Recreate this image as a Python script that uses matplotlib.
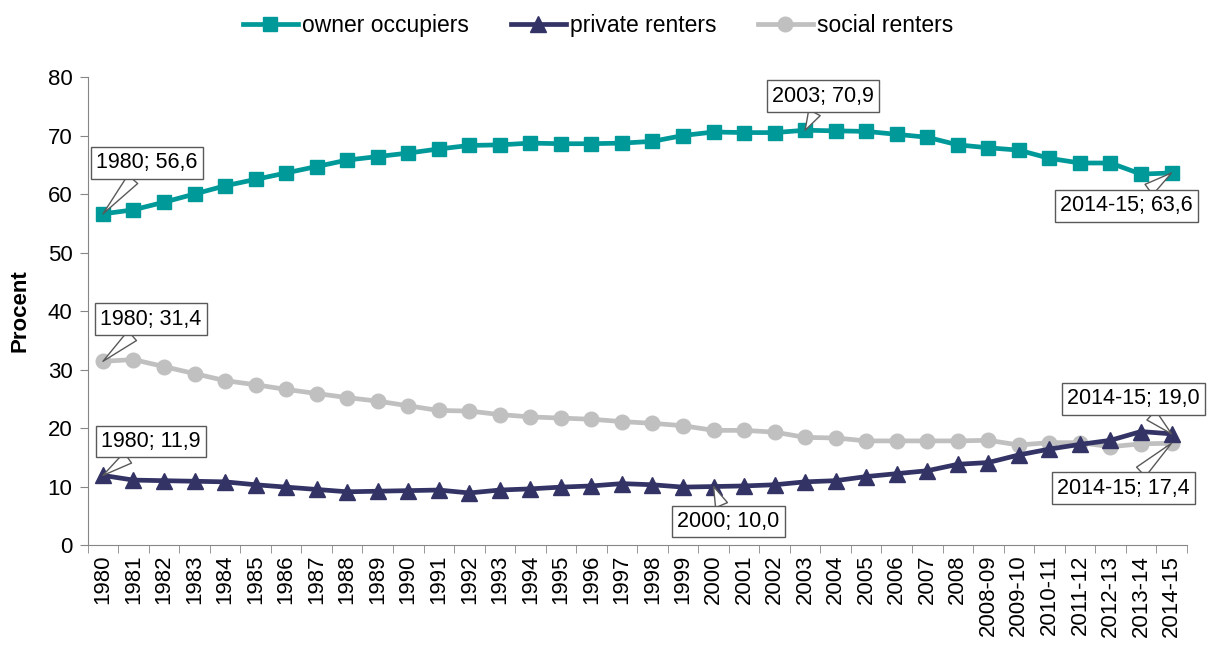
import matplotlib
matplotlib.use('Agg')
import matplotlib.pyplot as plt
import numpy as np

plt.rcParams['font.family'] = ['Liberation Sans', 'DejaVu Sans']

years = [str(y) for y in range(1980, 2009)] + [
    '2008-09', '2009-10', '2010-11', '2011-12', '2012-13', '2013-14', '2014-15']

owner = [56.6, 57.3, 58.6, 60.0, 61.4, 62.5, 63.6, 64.7, 65.8, 66.4, 67.0, 67.7, 68.3, 68.4,
         68.7, 68.6, 68.6, 68.7, 69.0, 70.0, 70.6, 70.5, 70.5, 70.9, 70.8, 70.7, 70.2, 69.7,
         68.4, 67.9, 67.5, 66.1, 65.3, 65.3, 63.4, 63.6]
private = [11.9, 11.1, 11.0, 10.9, 10.8, 10.3, 9.9, 9.5, 9.1, 9.2, 9.3, 9.4, 8.9, 9.4,
           9.6, 9.9, 10.1, 10.5, 10.3, 9.9, 10.0, 10.1, 10.3, 10.8, 11.0, 11.7, 12.2, 12.7,
           13.8, 14.1, 15.4, 16.4, 17.2, 17.9, 19.4, 19.0]
social = [31.4, 31.7, 30.5, 29.3, 28.1, 27.4, 26.6, 25.9, 25.2, 24.6, 23.8, 23.0, 22.9, 22.3,
          21.9, 21.7, 21.5, 21.1, 20.8, 20.4, 19.6, 19.6, 19.3, 18.4, 18.3, 17.8, 17.8, 17.8,
          17.8, 17.9, 17.1, 17.5, 17.5, 16.8, 17.3, 17.4]

c_owner = '#009999'
c_private = '#333366'
c_social = '#C0C0C0'

fig = plt.figure(figsize=(12.11, 6.46), dpi=100)
ax = fig.add_axes([0.0724, 0.1563, 0.9076, 0.7245])

x = np.arange(len(years))
ax.plot(x, owner, color=c_owner, lw=3.4, marker='s', ms=10.5, label='owner occupiers', zorder=4)
ax.plot(x, private, color=c_private, lw=3.4, marker='^', ms=11.5, label='private renters', zorder=3)
ax.plot(x, social, color=c_social, lw=3.4, marker='o', ms=10.5, label='social renters', zorder=2)

ax.set_xlim(-0.5, len(years) - 0.5)
ax.set_ylim(0, 80)
ax.set_yticks(np.arange(0, 81, 10))
ax.set_xticks(x)
ax.set_xticklabels(years, rotation=90)
ax.set_xticks(np.arange(-0.5, len(years), 1), minor=True)
ax.tick_params(axis='x', which='major', length=0, pad=7, labelsize=16)
ax.tick_params(axis='x', which='minor', length=6, color='#868686')
ax.tick_params(axis='y', length=6, color='#868686', labelsize=16, pad=5)
for s in ['top', 'right']:
    ax.spines[s].set_visible(False)
for s in ['left', 'bottom']:
    ax.spines[s].set_color('#868686')
ax.set_ylabel('Procent', fontsize=16, fontweight='bold', labelpad=12)

# callout labels: (series, index, offset in pixels)
callouts = [
    (owner, 0, (44, 51)),
    (owner, 23, (18, 34)),
    (owner, 35, (-45, -33)),
    (social, 0, (48, 42)),
    (private, 0, (48, 34)),
    (private, 20, (15, -35)),
    (private, 35, (-38, 35)),
    (social, 35, (-48, -45)),
]
for series, i, off in callouts:
    txt = '%s; %s' % (years[i], ('%.1f' % series[i]).replace('.', ','))
    ax.annotate(txt, xy=(i, series[i]), xytext=off, textcoords='offset pixels',
                ha='center', va='center', fontsize=15.5, zorder=6,
                bbox=dict(boxstyle='square,pad=0.25', fc='white', ec='#595959', lw=1),
                arrowprops=dict(arrowstyle='wedge,tail_width=0.6', fc='white', ec='#595959',
                                lw=1, shrinkA=0, shrinkB=0))

fig.legend(loc='upper center', bbox_to_anchor=(0.494, 1.01), ncol=3, frameon=False,
           fontsize=16.5, handlelength=2.4, columnspacing=1.8, handletextpad=0.2)

fig.savefig('out.png', dpi=100)
